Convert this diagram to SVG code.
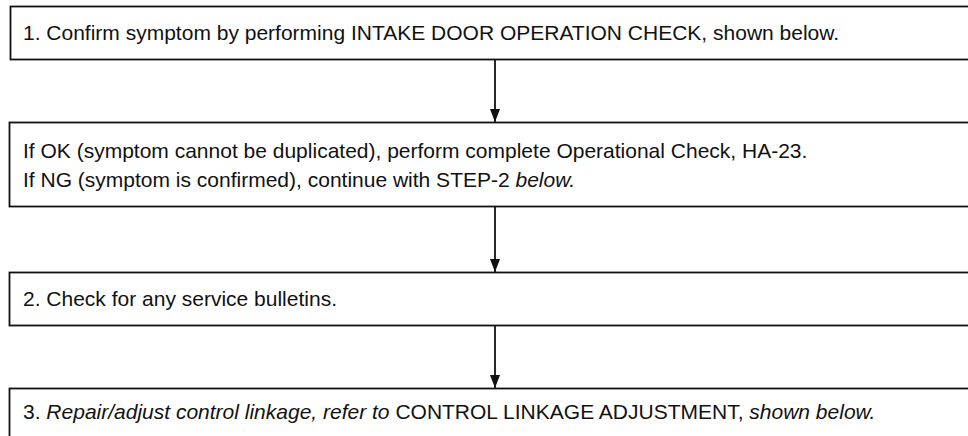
<svg xmlns="http://www.w3.org/2000/svg" width="968" height="436" viewBox="0 0 968 436">
  <style>
    .box { fill: #ffffff; stroke: #111111; stroke-width: 1.8; }
    .t { font-family: "Liberation Sans", Arial, Helvetica, sans-serif; font-size: 21px; fill: #111111; }
    .i { font-style: italic; }
    .conn { stroke: #111111; stroke-width: 1.8; fill: none; }
  </style>
  <defs>
    <marker id="ah" viewBox="0 0 13 10" refX="13" refY="5" markerWidth="13" markerHeight="10" markerUnits="userSpaceOnUse" orient="auto">
      <path d="M0,0 L13,5 L0,10 Z" fill="#111111"/>
    </marker>
  </defs>
  <rect width="968" height="436" fill="#ffffff"/>
  <g id="step1">
    <rect class="box" x="10.5" y="6.5" width="980" height="53"/>
    <text class="t" x="23" y="40">1. Confirm symptom by performing INTAKE DOOR OPERATION CHECK, shown below.</text>
  </g>
  <g id="result">
    <rect class="box" x="9.5" y="122.5" width="980" height="84"/>
    <text class="t" x="23" y="158">If OK (symptom cannot be duplicated), perform complete Operational Check, HA-23.</text>
    <text class="t" x="23" y="187">If NG (symptom is confirmed), continue with STEP-2 <tspan class="i">below.</tspan></text>
  </g>
  <g id="step2">
    <rect class="box" x="9.5" y="272.5" width="980" height="53"/>
    <text class="t" x="23" y="306">2. Check for any service bulletins.</text>
  </g>
  <g id="step3">
    <rect class="box" x="9.5" y="388.5" width="980" height="60"/>
    <text class="t" x="23" y="419">3. <tspan class="i">Repair/adjust control linkage, refer to</tspan> CONTROL LINKAGE ADJUSTMENT, <tspan class="i">shown below.</tspan></text>
  </g>
  <g id="connectors">
    <line class="conn" x1="495" y1="60" x2="495" y2="122" marker-end="url(#ah)"/>
    <line class="conn" x1="495" y1="207" x2="495" y2="272" marker-end="url(#ah)"/>
    <line class="conn" x1="495" y1="326" x2="495" y2="388" marker-end="url(#ah)"/>
  </g>
</svg>
